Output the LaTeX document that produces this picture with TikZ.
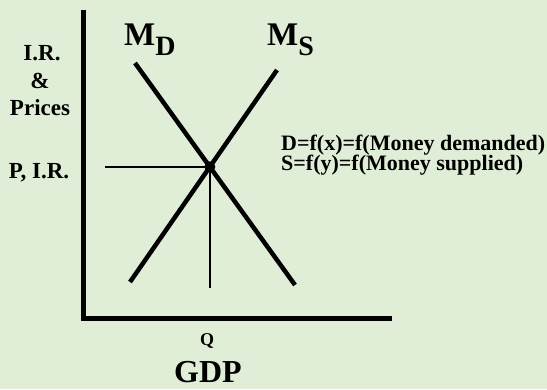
\documentclass[tikz,border=0pt]{standalone}
\usepackage{fontspec}
\setmainfont{Liberation Serif}
\usetikzlibrary{positioning, calc}
\definecolor{paper}{RGB}{224,238,215}
\tikzset{
  axis/.style={line width=5pt, line join=miter},
  curve/.style={line width=4.5pt},
  guide/.style={line width=1.4pt},
  axlabel/.style={anchor=base, inner sep=0pt, font=\bfseries\fontsize{23}{26}\selectfont},
  formula/.style={anchor=base west, inner sep=0pt, font=\bfseries\fontsize{22}{24}\selectfont},
  curvelabel/.style={anchor=base west, inner sep=0pt, font=\bfseries\fontsize{33}{36}\selectfont}
}
\newcommand{\curvename}[1]{M\raisebox{-10pt}{\fontsize{28}{30}\selectfont #1}}

\begin{document}
\begin{tikzpicture}[x=1pt, y=-1pt]
        % Background
        \fill[paper] (0,0) rectangle (547,389);
        \useasboundingbox (0,0) rectangle (547,389);

        % Axes
        \coordinate (ytop)   at (83,10);
        \coordinate (origin) at (83,318);
        \coordinate (xend)   at (392,318);
        \draw[axis] (ytop) -- (origin) -- (xend);

        % Demand and supply lines
        \coordinate (mdtop) at (135,63);
        \coordinate (mdbot) at (295,285);
        \coordinate (mstop) at (277,70);
        \coordinate (msbot) at (130,282);
        \draw[curve] (mdtop) -- (mdbot);
        \draw[curve] (mstop) -- (msbot);

        % Equilibrium
        \coordinate (eq) at (intersection of mdtop--mdbot and mstop--msbot);
        \fill (eq) circle (5.5pt);
        \coordinate (pleft) at (105,0);
        \coordinate (qlow)  at (0,288);
        \draw[guide] (pleft |- eq) -- (eq);
        \draw[guide] (eq) -- (eq |- qlow);

        % Curve labels
        \node[curvelabel] (md) at (124,45) {\curvename{D}};
        \node[curvelabel] (ms) at (267,45) {\curvename{S}};

        % Axis labels
        \node[axlabel] (ir)     at (42,60)  {I.R.};
        \node[axlabel] (amp)    at (40,88)  {\&};
        \node[axlabel] (prices) at (40,115) {Prices};
        \node[axlabel] (pir)    at (39,178) {P, I.R.};
        \node[axlabel, font=\bfseries\fontsize{18}{20}\selectfont] (q) at (207,345) {Q};
        \node[axlabel, font=\bfseries\fontsize{32}{34}\selectfont] (gdp) at (208,382) {GDP};

        % Formulas
        \node[formula] (fd) at (281,150) {D=f(x)=f(Money demanded)};
        \node[formula] (fs) at (281,170) {S=f(y)=f(Money supplied)};
    \end{tikzpicture}
\end{document}
